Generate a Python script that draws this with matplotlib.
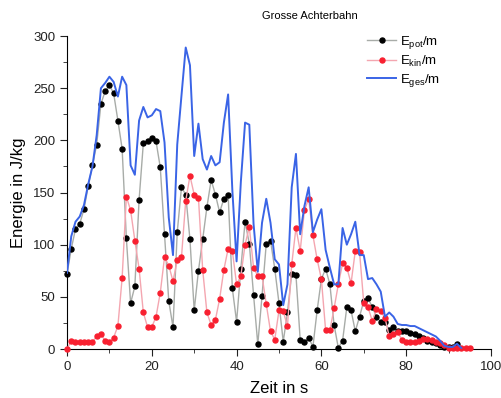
import numpy as np
import matplotlib
matplotlib.use("Agg")
import matplotlib.pyplot as plt
from matplotlib.ticker import MultipleLocator

plt.rcParams['font.family'] = ['Liberation Sans', 'DejaVu Sans']
plt.rcParams['mathtext.fontset'] = 'custom'
plt.rcParams['mathtext.rm'] = 'Liberation Sans'

title = "Grosse Achterbahn"
xlabel = "Zeit in s"
ylabel = "Energie in J/kg"
labels = [r"E$_{\rm pot}$/m", r"E$_{\rm kin}$/m", r"E$_{\rm ges}$/m"]

# potentielle Energie (t = 0..92 s)
e_pot = [72, 96, 115, 120, 134, 156, 176, 196, 235, 247,
         253, 245, 219, 192, 106, 44, 60, 143, 197, 199,
         202, 199, 174, 110, 46, 21, 112, 155, 148, 105,
         37, 75, 105, 136, 162, 148, 131, 144, 148, 58,
         26, 77, 122, 101, 52, 4.5, 51, 101, 104, 77,
         44, 7, 35, 72, 71, 9, 7, 11, 2, 37,
         67, 77, 62, 23, 1, 8, 40, 37, 17, 31,
         46, 49, 40, 31, 26, 26, 18, 21, 17, 17,
         17, 15, 14, 12, 11, 8, 7, 6, 4, 2,
         2, 2, 5]

# kinetische Energie (t = 0..95 s)
e_kin = [0, 8, 7, 7, 7, 7, 7, 12, 14, 8,
         7, 11, 22, 68, 146, 133, 104, 77, 35, 21,
         21, 31, 54, 88, 80, 65, 85, 88, 142, 166,
         148, 145, 76, 35, 23, 28, 48, 76, 96, 94,
         62, 70, 100, 117, 78, 70, 70, 43, 17, 9,
         37, 36, 22, 81, 116, 94, 133, 144, 109, 86,
         67, 18, 18, 39, 62, 82, 78, 63, 94, 93,
         44, 40, 27, 38, 36, 30, 12, 14, 16, 9,
         7, 7, 7, 8, 10, 10, 9, 7, 6, 4,
         1, 1, 1, 1, 1, 1]

# Gesamtenergie (t = 0..93 s)
e_ges = [73, 108, 122, 127, 138, 158, 175, 205, 250, 255,
         261, 256, 242, 261, 253, 176, 167, 219, 232, 222,
         224, 230, 228, 198, 126, 90, 196, 243, 289, 272,
         185, 216, 182, 172, 185, 176, 179, 217, 244, 152,
         84, 160, 217, 215, 120, 74, 121, 144, 121, 86,
         81, 42, 62, 155, 187, 110, 137, 155, 112, 124,
         134, 95, 78, 62, 62, 116, 100, 110, 122, 90,
         90, 67, 68, 62, 55, 31, 35, 31, 24, 23,
         23, 22, 22, 20, 18, 16, 14, 12, 8, 3,
         2, 2, 5, 1]

t_pot = np.arange(len(e_pot))
t_kin = np.arange(len(e_kin))
t_ges = np.arange(len(e_ges))

fig = plt.figure(figsize=(5.02, 3.98), dpi=100)
ax = fig.add_axes([0.1335, 0.1231, 0.8445, 0.7864])

ax.plot(t_pot, e_pot, color='#a8aca8', lw=1.0, marker='o', ms=3.6,
        mfc='black', mec='black', label=labels[0], clip_on=False, zorder=3)
ax.plot(t_kin, e_kin, color='#f4a6b0', lw=1.0, marker='o', ms=3.6,
        mfc='#f82030', mec='#f82030', label=labels[1], clip_on=False, zorder=3)
ax.plot(t_ges, e_ges, color='#3a64e6', lw=1.4, label=labels[2], zorder=4)

ax.set_xlim(0, 100)
ax.set_ylim(0, 300)
ax.xaxis.set_major_locator(MultipleLocator(20))
ax.xaxis.set_minor_locator(MultipleLocator(10))
ax.yaxis.set_major_locator(MultipleLocator(50))
ax.yaxis.set_minor_locator(MultipleLocator(25))
ax.spines['top'].set_visible(False)
ax.spines['right'].set_visible(False)
ax.tick_params(which='both', direction='out', labelsize=9.5, colors='#222222')
ax.tick_params(which='major', length=5)
ax.tick_params(which='minor', length=3)

ax.set_xlabel(xlabel, fontsize=12, labelpad=6)
ax.set_ylabel(ylabel, fontsize=12, labelpad=5)
fig.text(310 / 502, 1 - 16 / 398, title, fontsize=8, ha='center', va='center')

ax.legend(loc='upper left', bbox_to_anchor=(0.68, 1.045), frameon=False,
          fontsize=9.5, handlelength=2.2, labelspacing=0.22, handletextpad=0.3)

fig.savefig("out.png", dpi=100)
